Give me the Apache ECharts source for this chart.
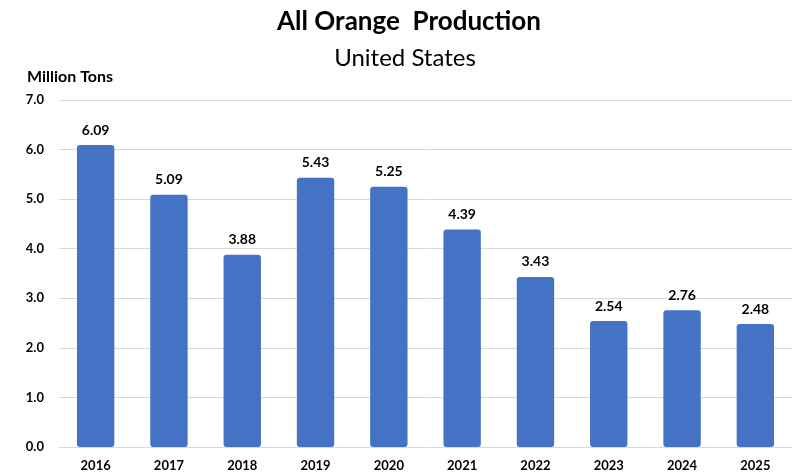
<!DOCTYPE html>
<html>
<head>
<meta charset="utf-8">
<script src="https://cdn.jsdelivr.net/npm/echarts@6/dist/echarts.min.js"></script>
<style>
  html, body { margin: 0; padding: 0; background: #fff; }
  #main { width: 792px; height: 475px; }
</style>
</head>
<body>
<div id="main"></div>
<script>
const years = ['2016', '2017', '2018', '2019', '2020', '2021', '2022', '2023', '2024', '2025']
const production = [6.09, 5.09, 3.88, 5.43, 5.25, 4.39, 3.43, 2.54, 2.76, 2.48]

const font = 'Lato, "Open Sans", sans-serif'

var myChart = echarts.init(document.getElementById('main'))

var option = {
  backgroundColor: '#fff',
  animation: false,
  title: [{
    text: 'All Orange  Production',
    left: 404,
    top: 4,
    textAlign: 'center',
    textStyle: { fontFamily: font, fontSize: 26, fontWeight: 'bold', color: '#000' }
  }, {
    text: 'United States',
    left: 400,
    top: 41,
    textAlign: 'center',
    textStyle: { fontFamily: font, fontSize: 24, fontWeight: 'normal', color: '#000' }
  }, {
    text: 'Million Tons',
    left: 22,
    top: 64,
    textStyle: { fontFamily: font, fontSize: 16, fontWeight: 'bold', color: '#000' }
  }],
  grid: { left: 59, right: 0, top: 100, bottom: 28 },
  xAxis: {
    type: 'category',
    data: years,
    axisTick: { show: false },
    axisLine: { lineStyle: { color: '#d9d9d9' } },
    axisLabel: { fontFamily: font, fontSize: 13, fontWeight: 'bold', color: '#000', margin: 12 }
  },
  yAxis: {
    type: 'value',
    min: 0,
    max: 7,
    interval: 1,
    axisLabel: {
      fontFamily: font, fontSize: 13, fontWeight: 'bold', color: '#000', margin: 15,
      formatter: v => v.toFixed(1)
    },
    splitLine: { lineStyle: { color: '#d9d9d9' } }
  },
  series: [{
    type: 'bar',
    data: production,
    barWidth: '51%',
    itemStyle: { color: '#4472C4', borderRadius: 3 },
    label: {
      show: true,
      position: 'top',
      distance: 8,
      fontFamily: font, fontSize: 14, fontWeight: 'bold', color: '#000',
      formatter: p => p.value.toFixed(2)
    }
  }]
}

myChart.setOption(option)
</script>
</body>
</html>
